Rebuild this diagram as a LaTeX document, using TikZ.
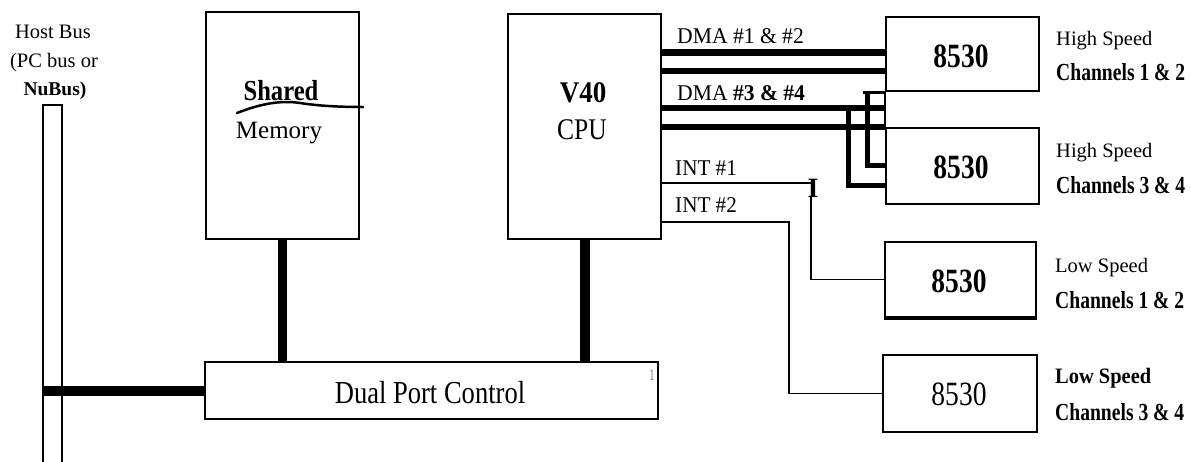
\documentclass[tikz,border=0pt]{standalone}
\usepackage{fontspec}
\setmainfont{Liberation Serif}
\newcommand{\sx}[2]{\scalebox{#1}[1]{#2}}
\begin{document}
\begin{tikzpicture}[x=1pt,y=-1pt,
  box/.style={draw, line width=2pt, inner sep=0pt, anchor=north west},
  txt/.style={inner sep=0pt, font=\fontsize{#1}{#1}\selectfont},
  fat/.style={line width=10pt},
  dma/.style={line width=6pt},
  wire/.style={line width=1.3pt},
]
\useasboundingbox (0,0) rectangle (1191,461);
% boxes
\node[box, minimum width=19pt, minimum height=400pt] (hb) at (42,104) {};
\node[box, minimum width=153pt, minimum height=227pt] (mem) at (205,11) {};
\node[box, minimum width=153pt, minimum height=225pt] (cpu) at (507,13) {};
\node[box, minimum width=453pt, minimum height=57pt] (dpc) at (204,361) {};
\node[box, minimum width=153pt, minimum height=74pt] (hs1) at (885,16) {};
\node[box, minimum width=153pt, minimum height=76pt] (hs2) at (885,127) {};
\node[box, minimum width=151pt, minimum height=75pt] (ls1) at (884,241) {};
\node[box, minimum width=154pt, minimum height=77pt] (ls2) at (882,354) {};
% texts
\node[txt=20.5, anchor=base] (hbl1) at (53,38) {Host\ Bus};
\node[txt=20.5, anchor=base] (hbl2) at (54,67) {(PC\ bus\ or};
\node[txt=19.5, anchor=base] (hbl3) at (55,95) {\textbf{NuBus)}};
\node[txt=29, anchor=base] (shared) at (281,100) {\sx{0.85}{\textbf{Shared}}};
\node[txt=25, anchor=base] (memory) at (279,138) {Memory};
\draw[line width=2.5pt, line cap=round] (237,113) .. controls (260,104) and (280,100) .. (300,103) .. controls (320,106) and (340,107) .. (363,107);
\node[txt=30, anchor=base] (v40) at (583,102) {\sx{0.9}{\textbf{V40}}};
\node[txt=30, anchor=base] (cpul) at (582,139) {\sx{0.85}{CPU}};
\node[txt=22.5, anchor=base west] (dma12) at (677,43) {\sx{0.96}{DMA \#1 \& \#2}};
\node[txt=22.5, anchor=base west] (dma34) at (677,100) {\sx{0.96}{DMA \textbf{\#3 \& \#4}}};
\node[txt=22.5, anchor=base west] (int1) at (675,175) {\sx{0.94}{INT \#1}};
\node[txt=22.5, anchor=base west] (int2) at (675,212) {\sx{0.94}{INT \#2}};
\node[txt=32, anchor=base] (dpl) at (430,403) {\sx{0.83}{Dual Port Control}};
\node[txt=16, anchor=base, text=black!60] (one) at (652,380) {\sx{0.6}{1}};
\node[txt=34, anchor=base] (c1) at (961,67) {\sx{0.81}{\textbf{8530}}};
\node[txt=34, anchor=base] (c2) at (961,178) {\sx{0.81}{\textbf{8530}}};
\node[txt=34, anchor=base] (c3) at (959,292) {\sx{0.81}{\textbf{8530}}};
\node[txt=34, anchor=base] (c4) at (959,405) {\sx{0.81}{8530}};
\node[txt=20.5, anchor=base west] (r1) at (1056,45) {High\ Speed};
\node[txt=24.5, anchor=base west] (r2) at (1056,80) {\sx{0.8}{\textbf{Channels 1 \& 2}}};
\node[txt=20.5, anchor=base west] (r3) at (1056,157) {High\ Speed};
\node[txt=24.5, anchor=base west] (r4) at (1056,193) {\sx{0.8}{\textbf{Channels 3 \& 4}}};
\node[txt=20.5, anchor=base west] (r5) at (1055,272) {Low\ Speed};
\node[txt=24.5, anchor=base west] (r6) at (1055,308) {\sx{0.8}{\textbf{Channels 1 \& 2}}};
\node[txt=22, anchor=base west] (r7) at (1055,383) {\sx{0.93}{\textbf{Low Speed}}};
\node[txt=24.5, anchor=base west] (r8) at (1055,420) {\sx{0.8}{\textbf{Channels 3 \& 4}}};
% buses
\draw[fat, line width=9pt] (mem.south) -- (mem.south |- dpc.north);
\draw[fat] (cpu.south) -- (cpu.south |- dpc.north);
\draw[fat] (hb.west |- dpc.west) -- (dpc.west);
% DMA
\draw[dma, line width=7pt] (cpu.east |- 0,52) -- (hs1.west |- 0,52);
\draw[dma] (cpu.east |- 0,71) -- (hs1.west |- 0,71);
\draw[dma] (cpu.east |- 0,108) -- (hs1.west |- 0,108);
\draw[dma] (cpu.east |- hs2.north) -- (hs2.north west);
\draw[line width=2pt] (hs1.south west) -- (hs2.north west);
\draw[line width=3pt] (hs1.south west) -- ++(-22,0);
\coordinate (a1) at (867,165);
\draw[line width=5pt] (a1 |- hs1.south) -- (a1) -- (a1 -| hs2.west);
\coordinate (b1) at (848,185);
\draw[line width=5pt] (b1 |- 0,108) -- (b1) -- (b1 -| hs2.west);
% INT
\coordinate (j1) at (811,183);
\coordinate (j2) at (789,222);
\draw[wire] (cpu.east |- j1) -- (j1);
\node[txt=28, anchor=base] (imark) at (813,197) {\textbf{I}};
\draw[wire] (j1 |- imark.south) -- (j1 |- ls1.west) -- (ls1.west);
\draw[wire] (cpu.east |- j2) -- (j2) -- (j2 |- ls2.west) -- (ls2.west);
\draw[line width=3.5pt] (ls1.south west) -- (ls1.south east);
\end{tikzpicture}
\end{document}
